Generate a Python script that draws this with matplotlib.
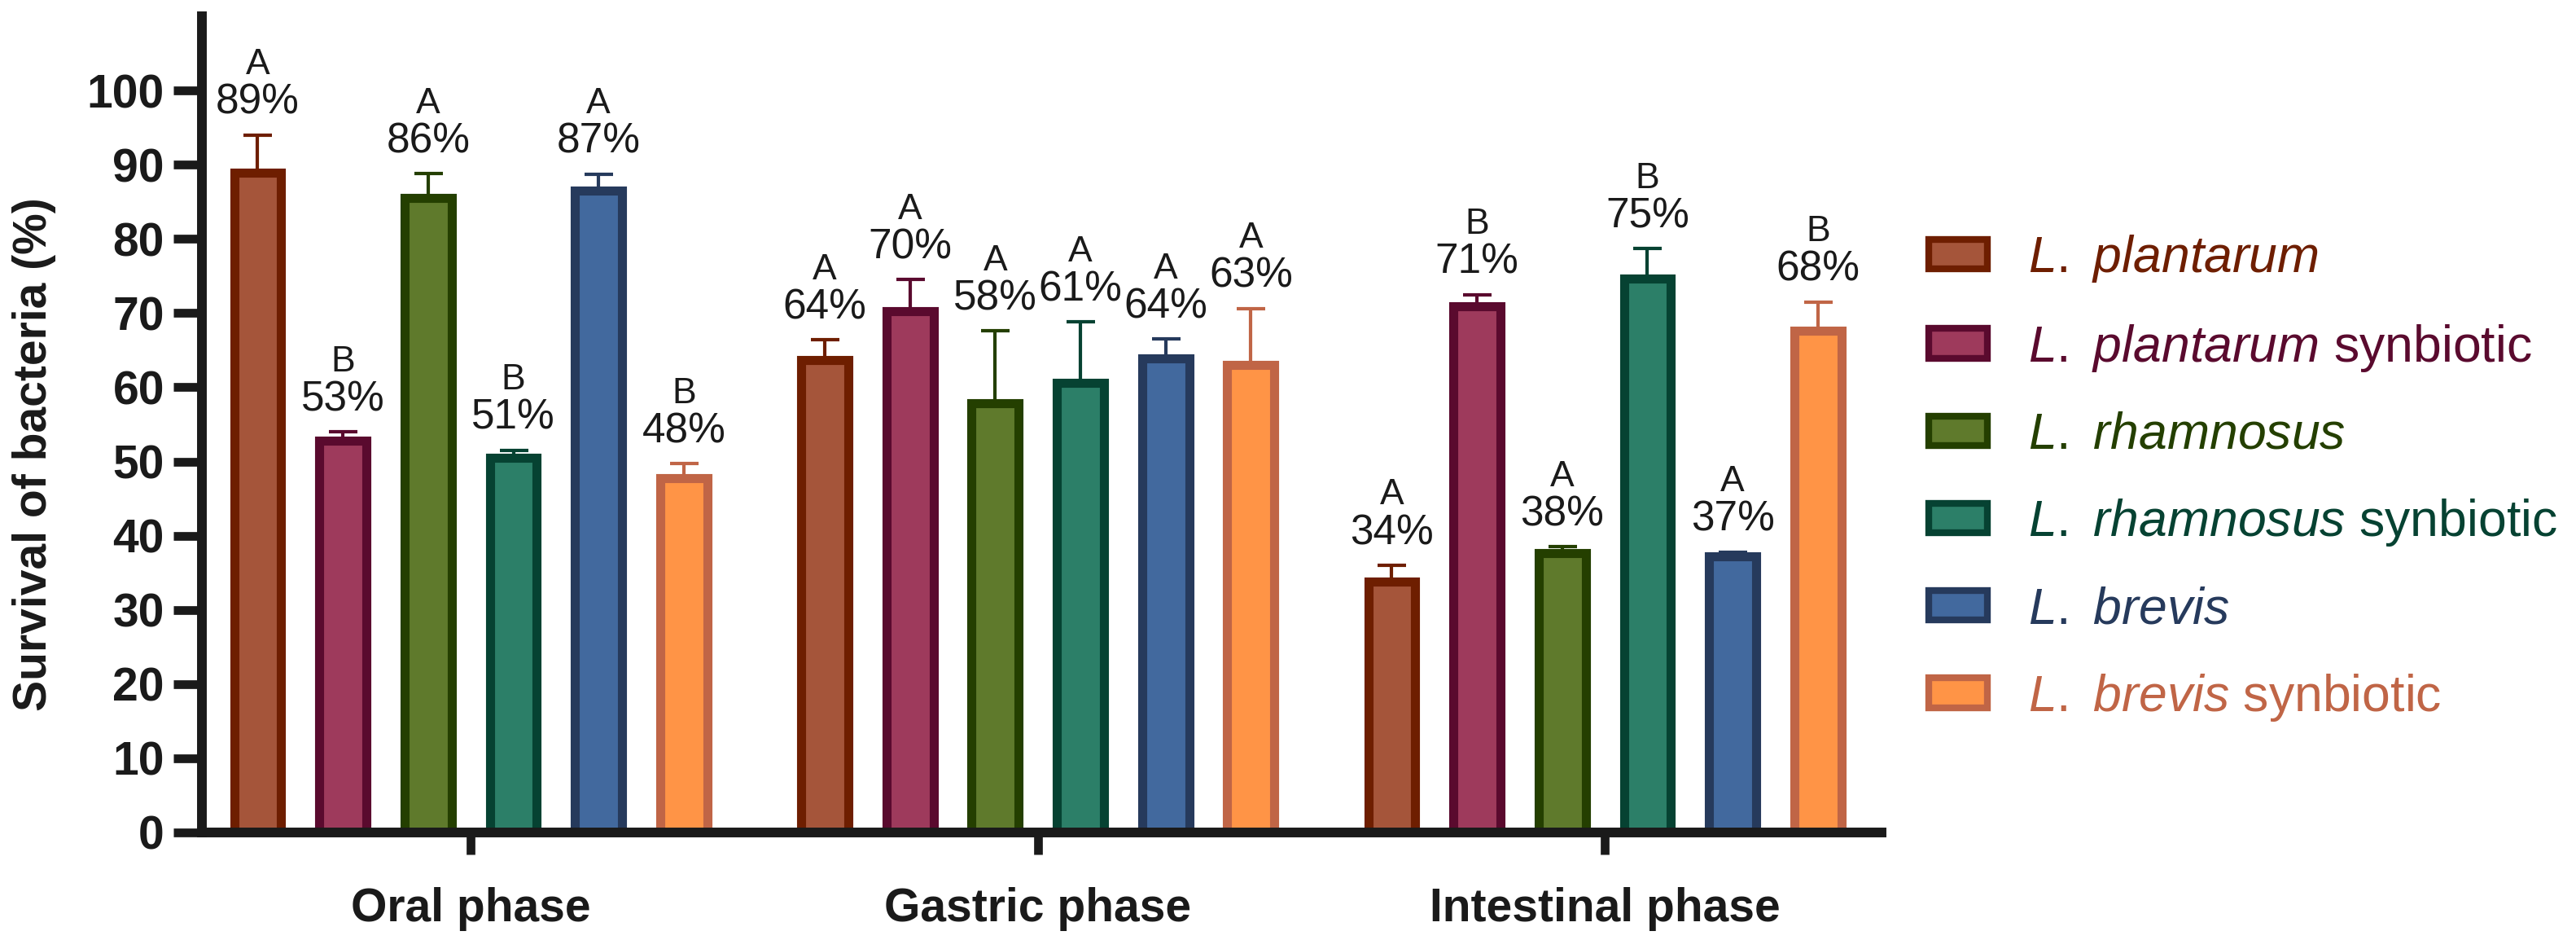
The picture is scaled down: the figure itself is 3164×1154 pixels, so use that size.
import numpy as np
import matplotlib
matplotlib.use("Agg")
import matplotlib.pyplot as plt
from matplotlib.patches import Patch

plt.rcParams['font.family'] = ['Liberation Sans', 'DejaVu Sans']
plt.rcParams['mathtext.fontset'] = 'custom'
plt.rcParams['mathtext.rm'] = 'Liberation Sans'
plt.rcParams['mathtext.it'] = 'Liberation Sans:italic'

# data
phases = ['Oral phase', 'Gastric phase', 'Intestinal phase']
strains = ['L. plantarum', 'L. plantarum synbiotic', 'L. rhamnosus',
           'L. rhamnosus synbiotic', 'L. brevis', 'L. brevis synbiotic']

oral_mean = [88.9, 52.8, 85.5, 50.5, 86.5, 47.8]
gastric_mean = [63.7, 70.3, 57.8, 60.6, 63.9, 63.0]
intestinal_mean = [33.8, 70.9, 37.7, 74.7, 37.2, 67.6]

oral_sd = [5.1, 1.2, 3.3, 1.0, 2.2, 1.9]
gastric_sd = [2.7, 4.2, 9.8, 8.2, 2.6, 7.6]
intestinal_sd = [2.2, 1.6, 0.8, 4.0, 0.6, 3.9]

oral_pct = ['89%', '53%', '86%', '51%', '87%', '48%']
gastric_pct = ['64%', '70%', '58%', '61%', '64%', '63%']
intestinal_pct = ['34%', '71%', '38%', '75%', '37%', '68%']

oral_letters = ['A', 'B', 'A', 'B', 'A', 'B']
gastric_letters = ['A', 'A', 'A', 'A', 'A', 'A']
intestinal_letters = ['A', 'B', 'A', 'B', 'A', 'B']

fills = ['#A5553A', '#9E3A5C', '#5F7A2C', '#2C7F68', '#42699E', '#FF9446']
edges = ['#6E1E00', '#5A0A2E', '#243F00', '#064232', '#263A5C', '#C06546']

legend_labels = [r'$\mathit{L.\ plantarum}$',
                 r'$\mathit{L.\ plantarum}$ synbiotic',
                 r'$\mathit{L.\ rhamnosus}$',
                 r'$\mathit{L.\ rhamnosus}$ synbiotic',
                 r'$\mathit{L.\ brevis}$',
                 r'$\mathit{L.\ brevis}$ synbiotic']

means = np.array([oral_mean, gastric_mean, intestinal_mean])
sds = np.array([oral_sd, gastric_sd, intestinal_sd])
pcts = [oral_pct, gastric_pct, intestinal_pct]
letters = [oral_letters, gastric_letters, intestinal_letters]

ink = '#1a1a1a'

fig = plt.figure(figsize=(15.82, 5.77), dpi=200)
ax = fig.add_axes([0.0784, 0.1144, 0.652, 0.8683])

x = np.arange(len(phases))
step = 0.1503
width = 0.083

for i in range(len(strains)):
    pos = x + (i - 2.5) * step
    ax.errorbar(pos, means[:, i], yerr=[np.zeros(3), sds[:, i]], fmt='none',
                ecolor=edges[i], elinewidth=1.5, capsize=6.3, capthick=1.5, zorder=1)
    ax.bar(pos, means[:, i], width, color=fills[i], edgecolor=edges[i],
           linewidth=4, zorder=2)
    for j in range(len(phases)):
        top = means[j, i] + sds[j, i]
        ax.annotate(pcts[j][i], (pos[j], top), xytext=(0, 5.4), textcoords='offset points',
                    ha='center', va='bottom', fontsize=18.5, color=ink)
        ax.annotate(letters[j][i], (pos[j], top), xytext=(0, 23.6), textcoords='offset points',
                    ha='center', va='bottom', fontsize=16, color=ink)

ax.set_xlim(-0.474, 2.488)
ax.set_ylim(0, 110)
ax.set_yticks(np.arange(0, 101, 10))
ax.set_yticklabels([str(v) for v in range(0, 101, 10)], fontweight='bold')
ax.set_xticks(x)
ax.set_xticklabels(phases, fontweight='bold')

for side in ['top', 'right']:
    ax.spines[side].set_visible(False)
for side in ['left', 'bottom']:
    ax.spines[side].set_linewidth(4.3)
    ax.spines[side].set_color(ink)

ax.tick_params(axis='y', length=12.6, width=3.85, pad=4, labelsize=20.5, colors=ink)
ax.tick_params(axis='x', length=9.7, width=3.85, pad=14.5, labelsize=20.5, colors=ink)

ax.set_ylabel('Survival of bacteria (%)', fontsize=20.5, fontweight='bold', color=ink)
ax.yaxis.set_label_coords(-0.087, 0.463)

handles = [Patch(facecolor=f, edgecolor=e, linewidth=3) for f, e in zip(fills, edges)]
leg = fig.legend(handles, legend_labels, loc='center left', bbox_to_anchor=(0.7487, 0.4913),
                 frameon=False, fontsize=22.5, handlelength=1.15, handleheight=0.51,
                 handletextpad=0.8, labelspacing=0.74, borderpad=0, borderaxespad=0)
for t, c in zip(leg.get_texts(), edges):
    t.set_color(c)

fig.savefig('out.png', dpi=200)
